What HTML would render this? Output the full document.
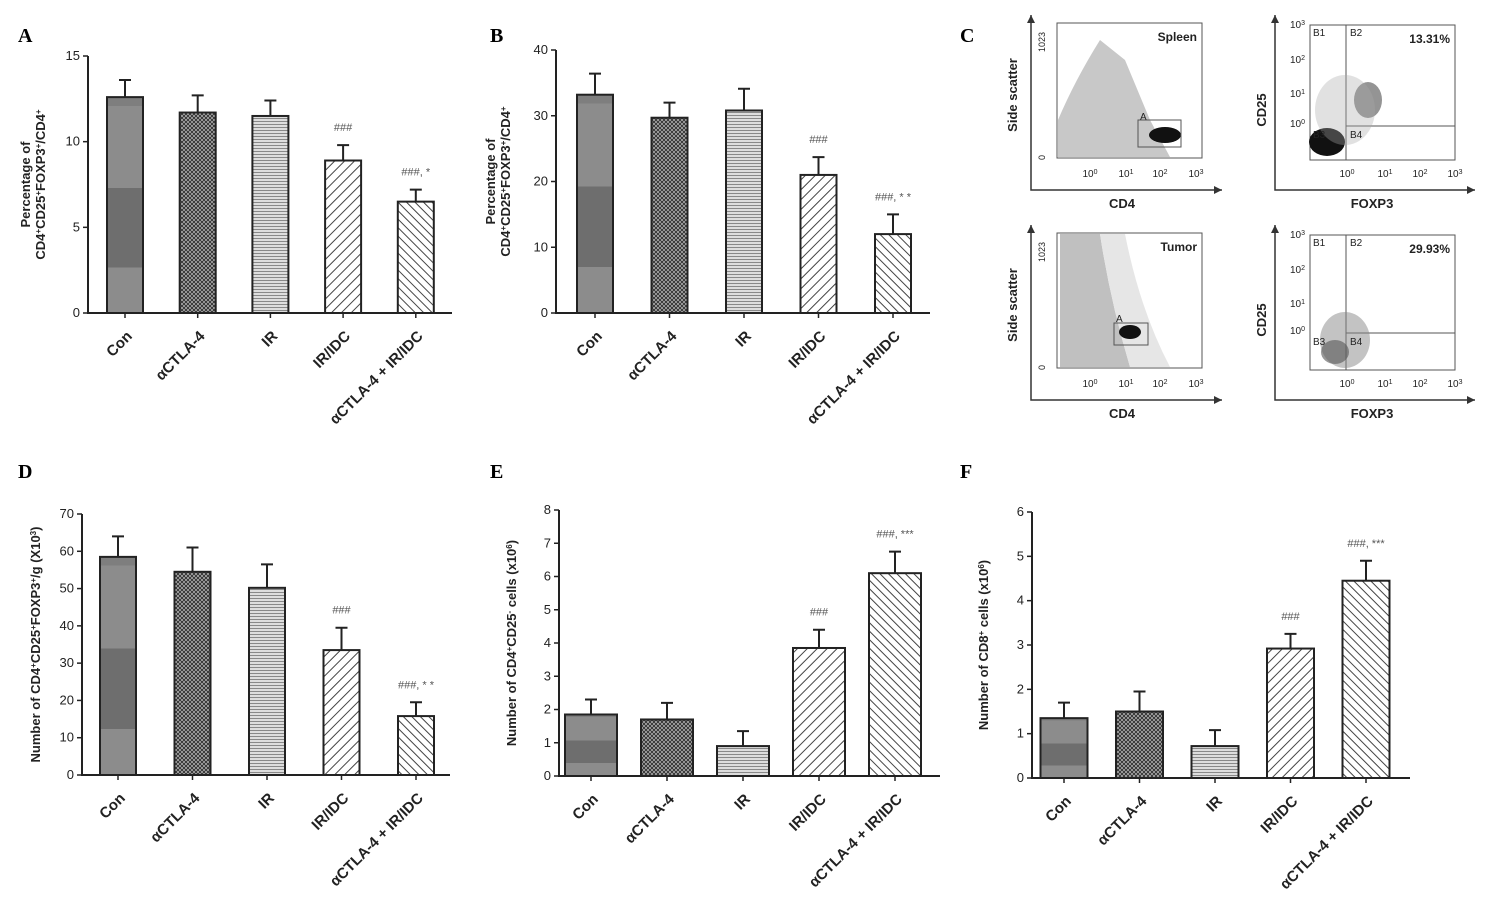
<!DOCTYPE html>
<html><head><meta charset="utf-8"><style>
html,body{margin:0;padding:0;background:#fff}
svg{display:block;font-family:"Liberation Sans",Arial,sans-serif}
</style></head><body>
<svg id="fig" width="1488" height="902" viewBox="0 0 1488 902" xmlns="http://www.w3.org/2000/svg">
<defs>
<pattern id="pCross" width="4" height="4" patternUnits="userSpaceOnUse"><rect width="4" height="4" fill="#b8b8b8"/><path d="M0 0L4 4M4 0L0 4" stroke="#333" stroke-width="1"/></pattern>
<pattern id="pHoriz" width="4" height="3" patternUnits="userSpaceOnUse"><rect width="4" height="3" fill="#ddd"/><path d="M0 1.5H4" stroke="#888" stroke-width="1"/></pattern>
<pattern id="pDiagB" width="7" height="7" patternUnits="userSpaceOnUse" patternTransform="rotate(45)"><rect width="7" height="7" fill="#fff"/><path d="M0 0V7" stroke="#444" stroke-width="2"/></pattern>
<pattern id="pDiagF" width="6" height="6" patternUnits="userSpaceOnUse" patternTransform="rotate(-45)"><rect width="6" height="6" fill="#fff"/><path d="M0 0V6" stroke="#444" stroke-width="2"/></pattern>
<linearGradient id="gCon" x1="0" y1="0" x2="0" y2="1"><stop offset="0" stop-color="#7e7e7e"/><stop offset="0.04" stop-color="#7e7e7e"/><stop offset="0.04" stop-color="#8c8c8c"/><stop offset="0.42" stop-color="#8c8c8c"/><stop offset="0.42" stop-color="#6e6e6e"/><stop offset="0.79" stop-color="#6e6e6e"/><stop offset="0.79" stop-color="#8c8c8c"/><stop offset="1" stop-color="#8c8c8c"/></linearGradient>
</defs>
<g id="charts"></g>
<g id="flow"></g>
</svg>
<script>
const categories = ["Con","\u03b1CTLA-4","IR","IR/IDC","\u03b1CTLA-4 + IR/IDC"];
const valuesA = [12.6, 11.7, 11.5, 8.9, 6.5];
const errorsA = [13.6, 12.7, 12.4, 9.8, 7.2];
const sigA = ["","","","###","###, *"];
const ticksA = [0,5,10,15];
const valuesB = [33.2, 29.7, 30.8, 21.0, 12.0];
const errorsB = [36.4, 32.0, 34.1, 23.7, 15.0];
const sigB = ["","","","###","###, * *"];
const ticksB = [0,10,20,30,40];
const valuesD = [58.5, 54.5, 50.2, 33.5, 15.8];
const errorsD = [64, 61, 56.5, 39.5, 19.5];
const sigD = ["","","","###","###, * *"];
const ticksD = [0,10,20,30,40,50,60,70];
const valuesE = [1.85, 1.7, 0.9, 3.85, 6.1];
const errorsE = [2.3, 2.2, 1.35, 4.4, 6.75];
const sigE = ["","","","###","###,  ***"];
const ticksE = [0,1,2,3,4,5,6,7,8];
const valuesF = [1.35, 1.5, 0.72, 2.92, 4.45];
const errorsF = [1.7, 1.95, 1.08, 3.25, 4.9];
const sigF = ["","","","###","###,  ***"];
const ticksF = [0,1,2,3,4,5,6];

const NS="http://www.w3.org/2000/svg";
const fills=["url(#gCon)","url(#pCross)","url(#pHoriz)","url(#pDiagB)","url(#pDiagF)"];
function mk(tag,attrs,parent){const e=document.createElementNS(NS,tag);for(const k in attrs)e.setAttribute(k,attrs[k]);parent.appendChild(e);return e;}

function panel(cfg,vals,errs,sig,ticks){
  const root=document.getElementById('charts');
  const g=mk('g',{},root);
  
  
  const max=ticks[ticks.length-1];
  const y=v=>cfg.y0-(v/max)*(cfg.y0-cfg.yTop);
  const x=i=>cfg.x0+cfg.first+i*cfg.step;
  const L=mk('text',{x:cfg.lx,y:cfg.ly,'font-family':'Liberation Serif,serif','font-weight':'bold','font-size':20},g);L.textContent=cfg.id.toUpperCase();
  
  
  const ax=mk('path',{d:`M${cfg.x0} ${y(max)}V${cfg.y0}H${cfg.xEnd}`,stroke:'#222','stroke-width':2,fill:'none'},g);
  
  
  ticks.forEach(t=>{
    mk('line',{x1:cfg.x0-5,x2:cfg.x0,y1:y(t),y2:y(t),stroke:'#222','stroke-width':1.5},g);
    const tt=mk('text',{x:cfg.x0-8,y:y(t)+4,'text-anchor':'end','font-size':13,fill:'#222'},g);tt.textContent=t;
    
    
  });
  vals.forEach((v,i)=>{
    const cx=x(i),w=cfg.bw;
    const b=mk('rect',{x:cx-w/2,y:y(v),width:w,height:cfg.y0-y(v),fill:fills[i],stroke:'#222','stroke-width':2},g);
    
    
    const e=mk('path',{d:`M${cx} ${y(v)}V${y(errs[i])}M${cx-6} ${y(errs[i])}H${cx+6}`,stroke:'#222','stroke-width':2,fill:'none'},g);
    
    
    mk('line',{x1:cx,x2:cx,y1:cfg.y0,y2:cfg.y0+5,stroke:'#222','stroke-width':1.5},g);
    if(sig[i]){const s=mk('text',{x:cx,y:y(errs[i])-14,'text-anchor':'middle','font-size':11,fill:'#555'},g);s.textContent=sig[i];
      
      }
    const c=mk('text',{x:0,y:0,'text-anchor':'end','font-size':15,'font-weight':'bold',fill:'#222',transform:`translate(${cx+8},${cfg.y0+24}) rotate(-45)`},g);c.textContent=categories[i];
    
    
  });
  const yt=mk('text',{x:0,y:0,'text-anchor':'middle','font-size':13,'font-weight':'bold',fill:'#222',transform:`translate(${cfg.tx},${(cfg.y0+y(max))/2}) rotate(-90)`},g);
  yt.innerHTML=cfg.title;
  
  
}
const sup=s=>`<tspan baseline-shift="super" font-size="8">${s}</tspan>`;
panel({id:'a',lx:18,ly:42,x0:88,y0:313,yTop:56,xEnd:452,first:37,step:72.7,bw:36,tx:38,
  title:`<tspan x="0" dy="-8">Percentage of</tspan><tspan x="0" dy="15">CD4${sup('+')}CD25${sup('+')}FOXP3${sup('+')}/CD4${sup('+')}</tspan>`},valuesA,errorsA,sigA,ticksA);
panel({id:'b',lx:490,ly:42,x0:556,y0:313,yTop:50,xEnd:930,first:39,step:74.5,bw:36,tx:503,
  title:`<tspan x="0" dy="-8">Percentage of</tspan><tspan x="0" dy="15">CD4${sup('+')}CD25${sup('+')}FOXP3${sup('+')}/CD4${sup('+')}</tspan>`},valuesB,errorsB,sigB,ticksB);
panel({id:'d',lx:18,ly:478,x0:82,y0:775,yTop:514,xEnd:450,first:36,step:74.5,bw:36,tx:40,
  title:`Number of CD4${sup('+')}CD25${sup('+')}FOXP3${sup('+')}/g (X10${sup('3')})`},valuesD,errorsD,sigD,ticksD);
panel({id:'e',lx:490,ly:478,x0:559,y0:776,yTop:510,xEnd:940,first:32,step:76,bw:52,tx:516,
  title:`Number of CD4${sup('+')}CD25${sup('-')} cells (x10${sup('6')})`},valuesE,errorsE,sigE,ticksE);
panel({id:'f',lx:960,ly:478,x0:1032,y0:778,yTop:512,xEnd:1410,first:32,step:75.5,bw:47,tx:988,
  title:`Number of CD8${sup('+')} cells (x10${sup('6')})`},valuesF,errorsF,sigF,ticksF);

(function(){
  const f=document.getElementById('flow');
  const C=mk('text',{x:960,y:42,'font-family':'Liberation Serif,serif','font-weight':'bold','font-size':20},f);C.textContent='C';
  
  
  function arrows(ax,ay,top,right){
    mk('path',{d:`M${ax} ${top}V${ay}H${right}`,stroke:'#333','stroke-width':1.5,fill:'none'},f);
    mk('path',{d:`M${ax-4} ${top+8}L${ax} ${top}L${ax+4} ${top+8}Z M${right-8} ${ay-4}L${right} ${ay}L${right-8} ${ay+4}Z`,fill:'#333'},f);
  }
  function t(x,y,s,size,extra){const e=mk('text',Object.assign({x:x,y:y,'font-size':size||10,fill:'#222'},extra||{}),f);e.innerHTML=s;return e;}
  function ssc(dy,name,tumor){
    const g=mk('g',{},f);
    
    
    arrows(1031,190+dy,15+dy,1222);
    mk('rect',{x:1057,y:23+dy,width:145,height:135,fill:'none',stroke:'#555','stroke-width':1},f);
    if(!tumor){
      mk('path',{d:`M1058 ${157+dy}L1058 ${120+dy}Q1075 ${80+dy} 1100 ${40+dy}L1125 ${60+dy}L1150 ${120+dy}L1170 ${157+dy}Z`,fill:'#c8c8c8'},f);
      mk('ellipse',{cx:1165,cy:135+dy,rx:16,ry:8,fill:'#111'},f);
      mk('rect',{x:1138,y:120+dy,width:43,height:27,fill:'none',stroke:'#555'},f);
      t(1140,120+dy,'A',10);
    }else{
      mk('path',{d:`M1060 ${24+dy}H1100Q1110 ${90+dy} 1130 ${157+dy}H1060Z`,fill:'#c0c0c0'},f);
      mk('path',{d:`M1100 ${24+dy}H1125Q1140 ${100+dy} 1170 ${157+dy}H1130Q1110 ${90+dy} 1100 ${24+dy}Z`,fill:'#e6e6e6'},f);
      mk('ellipse',{cx:1130,cy:122+dy,rx:11,ry:7,fill:'#111'},f);
      mk('rect',{x:1114,y:113+dy,width:34,height:22,fill:'none',stroke:'#555'},f);
      t(1116,112+dy,'A',10);
    }
    t(1197,41+dy,name,12,{'text-anchor':'end','font-weight':'bold'});
    t(0,0,'1023',9,{transform:`translate(1045,${52+dy}) rotate(-90)`});
    t(0,0,'0',9,{transform:`translate(1045,${160+dy}) rotate(-90)`});
    [['10<tspan baseline-shift="super" font-size="7">0</tspan>',1090],['10<tspan baseline-shift="super" font-size="7">1</tspan>',1126],['10<tspan baseline-shift="super" font-size="7">2</tspan>',1160],['10<tspan baseline-shift="super" font-size="7">3</tspan>',1196]].forEach(a=>t(a[1],177+dy,a[0],10,{'text-anchor':'middle'}));
    t(1122,208+dy,'CD4',13,{'text-anchor':'middle','font-weight':'bold'});
    t(0,0,'Side scatter',13,{transform:`translate(1017,${95+dy}) rotate(-90)`,'text-anchor':'middle','font-weight':'bold'});
  }
  function quad(dy,pct,hy,spleen){
    const g=mk('g',{},f);
    
    
    arrows(1275,190+dy,15+dy,1475);
    mk('rect',{x:1310,y:25+dy,width:145,height:135,fill:'none',stroke:'#555'},f);
    mk('path',{d:`M1346 ${25+dy}V${160+dy}M1346 ${hy+dy}H1455`,stroke:'#555',fill:'none'},f);
    if(spleen){
      mk('ellipse',{cx:1327,cy:142+dy,rx:18,ry:14,fill:'#111'},f);
      mk('ellipse',{cx:1368,cy:100+dy,rx:14,ry:18,fill:'#666',opacity:0.7},f);
      mk('ellipse',{cx:1345,cy:110+dy,rx:30,ry:35,fill:'#aaa',opacity:0.35},f);
    }else{
      mk('ellipse',{cx:1345,cy:130+dy,rx:25,ry:28,fill:'#888',opacity:0.5},f);
      mk('ellipse',{cx:1335,cy:142+dy,rx:14,ry:12,fill:'#555',opacity:0.6},f);
    }
    t(1313,36+dy,'B1',10);t(1350,36+dy,'B2',10);
    t(1313,hy+12+dy,'B3',10);t(1350,hy+12+dy,'B4',10);
    t(1450,43+dy,pct,12,{'text-anchor':'end','font-weight':'bold'});
    const yl=[[25,'3'],[60,'2'],[94,'1'],[hy-2,'0']];
    yl.forEach(a=>t(1305,a[0]+3+dy,`10<tspan baseline-shift="super" font-size="7">${a[1]}</tspan>`,10,{'text-anchor':'end'}));
    [[1347,'0'],[1385,'1'],[1420,'2'],[1455,'3']].forEach(a=>t(a[0],177+dy,`10<tspan baseline-shift="super" font-size="7">${a[1]}</tspan>`,10,{'text-anchor':'middle'}));
    t(1372,208+dy,'FOXP3',13,{'text-anchor':'middle','font-weight':'bold'});
    t(0,0,'CD25',13,{transform:`translate(1266,${110+dy}) rotate(-90)`,'text-anchor':'middle','font-weight':'bold'});
  }
  ssc(0,'Spleen',false);
  ssc(210,'Tumor',true);
  quad(0,'13.31%',126,true);
  quad(210,'29.93%',123,false);
})();
</script>
</body></html>
